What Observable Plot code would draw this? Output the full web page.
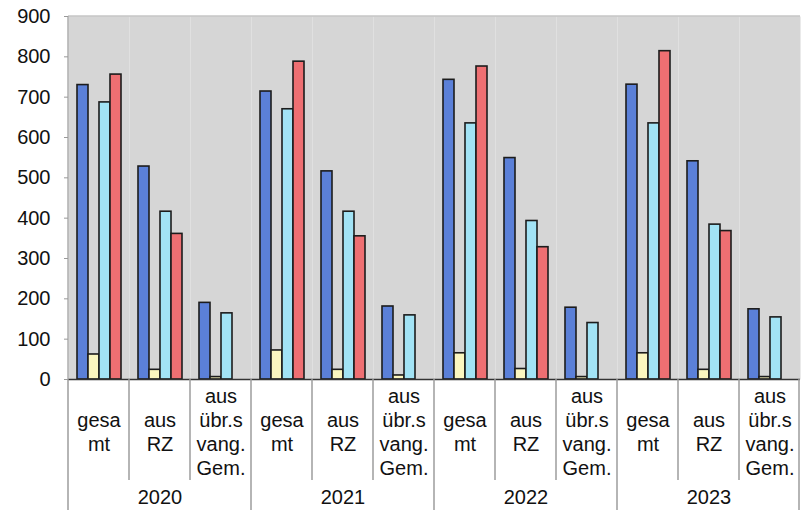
<!DOCTYPE html>
<html>
<head>
<meta charset="utf-8">
<script src="https://cdn.jsdelivr.net/npm/d3@7"></script>
<script src="https://cdn.jsdelivr.net/npm/@observablehq/plot@0.6"></script>
<style>
  html, body { margin: 0; padding: 0; background: #fff; overflow: hidden; }
</style>
</head>
<body>
<div id="chart"></div>
<script>
// ---- data ----
const years = ["2020", "2021", "2022", "2023"];
const groups = ["gesamt", "aus RZ", "aus übr.s vang. Gem."];
const groupLabels = ["gesa\nmt", "aus\nRZ", "aus\nübr.s\nvang.\nGem."];
const seriesNames = ["Reihe 1", "Reihe 2", "Reihe 3", "Reihe 4"];
const seriesColors = ["#5b80d8", "#fbf6bf", "#a2e3f5", "#ee6f72"];
// values in order 2020 gesamt, 2020 RZ, 2020 übr, 2021 gesamt, ...
const s1 = [730, 528, 190, 714, 516, 181, 743, 549, 178, 731, 541, 174];
const s2 = [62, 24, 6, 72, 24, 10, 65, 26, 6, 65, 24, 6];
const s3 = [687, 416, 164, 670, 416, 159, 635, 393, 140, 635, 384, 154];
const s4 = [756, 361, null, 788, 355, null, 776, 328, null, 814, 368, null];
const yTicks = [0, 100, 200, 300, 400, 500, 600, 700, 800, 900];

// ---- build tables ----
const cats = [];
years.forEach(yr => groups.forEach((g, gi) => cats.push({key: yr + "|" + g, year: yr, group: g, label: groupLabels[gi], gi})));
const keys = cats.map(c => c.key);
const allSeries = [s1, s2, s3, s4];
const rows = [];
allSeries.forEach((s, si) => s.forEach((v, i) => {
  if (v != null) rows.push({key: keys[i], series: seriesNames[si], value: v});
}));

const plot = Plot.plot({
  width: 802,
  height: 510,
  marginLeft: 66,
  marginRight: 0,
  marginTop: 16,
  marginBottom: 131,
  style: {fontFamily: "'Liberation Sans', Arial, sans-serif", fontSize: "20px", background: "#fff", overflow: "visible"},
  fx: {domain: keys, padding: 0, axis: null},
  x: {domain: seriesNames, paddingInner: 0, paddingOuter: 0.6, axis: null},
  y: {domain: [0, 900], axis: null},
  color: {domain: seriesNames, range: seriesColors},
  marks: [
    Plot.frame({fill: "#d6d6d6", stroke: null}),
    Plot.axisY({ticks: yTicks, tickSize: 4, tickPadding: 14, stroke: "#999", fill: "#111", fontSize: 20, label: null}),
    Plot.barY(rows, {fx: "key", x: "series", y: "value", fill: "series", stroke: "#1c1c1c", strokeWidth: 1.6}),
    Plot.ruleY([0], {stroke: "#333", strokeWidth: 1.5}),
    Plot.text(cats, {fx: "key", frameAnchor: "bottom", dy: 52, lineAnchor: "middle", text: "label", lineHeight: 1.2, fontSize: 20, fill: "#111"}),
    Plot.text(cats.filter(c => c.gi === 1), {fx: "key", frameAnchor: "bottom", dy: 118, lineAnchor: "middle", text: "year", fontSize: 20, fill: "#111"})
  ]
});

document.getElementById("chart").appendChild(plot);

// separators and frame lines from the library's own scales
const fx = plot.scale("fx");
const ys = plot.scale("y");
const y0 = ys.apply(0), yTop = ys.apply(900);
const svg = d3.select(plot);
const g = svg.append("g");
const bw = fx.bandwidth;
keys.forEach((k, i) => {
  const xx = fx.apply(k);
  const isYear = i % 3 === 0;
  g.append("line").attr("x1", xx).attr("x2", xx).attr("y1", y0).attr("y2", isYear ? 510 : 480)
    .attr("stroke", "#9c9c9c").attr("stroke-width", 1.5);
});
const xEnd = fx.apply(keys[keys.length - 1]) + bw;
g.append("line").attr("x1", xEnd - 1).attr("x2", xEnd - 1).attr("y1", y0).attr("y2", 510)
  .attr("stroke", "#9c9c9c").attr("stroke-width", 1.5);
// left axis line and top border
const xStart = fx.apply(keys[0]);
g.append("line").attr("x1", xStart).attr("x2", xStart).attr("y1", yTop).attr("y2", y0)
  .attr("stroke", "#9a9a9a").attr("stroke-width", 1.2);
g.append("line").attr("x1", xStart).attr("x2", xEnd).attr("y1", yTop).attr("y2", yTop)
  .attr("stroke", "#aaaaaa").attr("stroke-width", 1.2);
</script>
</body>
</html>
